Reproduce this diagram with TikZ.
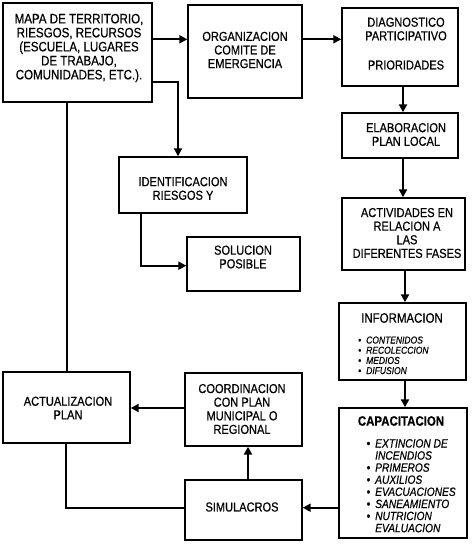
\documentclass[tikz,border=0pt]{standalone}
\usepackage{fontspec}
\setmainfont{Liberation Sans}[FakeStretch=0.85,FakeBold=0.6]
\usetikzlibrary{arrows.meta,calc}
\tikzset{
  box/.style={draw, line width=1.4pt, inner sep=0pt},
  txt/.style={font=\fontsize{13}{13.6}\selectfont, align=center, inner sep=0pt},
  ttl/.style={font=\fontsize{13.5}{14}\selectfont, inner sep=0pt},
  itm/.style={font=\fontsize{10}{10}\selectfont\itshape, inner sep=0pt, anchor=base west},
  itmb/.style={font=\fontsize{12}{12}\selectfont\itshape, inner sep=0pt, anchor=base west},
  arr/.style={line width=2pt, -{Triangle[length=8pt,width=8pt]}},
  ln/.style={line width=2pt}
}
\newcommand{\bul}{\llap{\textbullet\hspace{5pt}}}
\begin{document}
\begin{tikzpicture}[x=1pt,y=-1pt]
\useasboundingbox (0,0) rectangle (471,545);
% boxes
\node[box, minimum width=149pt, minimum height=99pt] (mapa) at (77.5,52.5) {};
\node[box, minimum width=114pt, minimum height=93pt] (org) at (245,51.5) {};
\node[box, minimum width=116pt, minimum height=78pt] (diag) at (400,47) {};
\node[box, minimum width=116pt, minimum height=45pt] (elab) at (400,135.5) {};
\node[box, minimum width=123pt, minimum height=72pt] (act) at (403.5,234) {};
\node[box, minimum width=127pt, minimum height=77pt] (info) at (402.5,341.5) {};
\node[box, minimum width=128pt, minimum height=130pt] (cap) at (403,473) {};
\node[box, minimum width=128pt, minimum height=56pt] (ident) at (183,185) {};
\node[box, minimum width=113pt, minimum height=54pt] (sol) at (243.5,264) {};
\node[box, minimum width=127pt, minimum height=71pt] (actu) at (66.5,407.5) {};
\node[box, minimum width=117pt, minimum height=73pt] (coord) at (243.5,409.5) {};
\node[box, minimum width=117pt, minimum height=60pt] (sim) at (243.5,510) {};
% texts
\node[txt, font=\fontsize{13.6}{14}\selectfont] (mapaT) at (79,48) {MAPA DE TERRITORIO,\\RIESGOS, RECURSOS\\(ESCUELA, LUGARES\\DE TRABAJO,\\COMUNIDADES, ETC.).};
\node[txt] (orgT) at (245,50) {ORGANIZACION\\COMITE DE\\EMERGENCIA};
\node[txt] (diagT) at (406,29) {DIAGNOSTICO\\PARTICIPATIVO};
\node[txt] (prioT) at (406,65) {PRIORIDADES};
\node[txt] (elabT) at (406,134.5) {ELABORACION\\PLAN LOCAL};
\node[txt] (actT) at (407,233) {ACTIVIDADES EN\\RELACION A\\LAS\\DIFERENTES FASES};
\node[ttl] (infoT) at (402,318) {INFORMACION};
\node[itm] (info1) at (366,343.5) {\bul CONTENIDOS};
\node[itm] (info2) at (366,353.7) {\bul RECOLECCION};
\node[itm] (info3) at (366,363.9) {\bul MEDIOS};
\node[itm] (info4) at (366,374.1) {\bul DIFUSION};
\node[ttl, font=\fontsize{13.5}{14}\selectfont\bfseries] (capT) at (401,421) {CAPACITACION};
\node[itmb] (cap1) at (375,447.5) {\bul EXTINCION DE};
\node[itmb] (cap2) at (375,459.6) {INCENDIOS};
\node[itmb] (cap3) at (375,471.7) {\bul PRIMEROS};
\node[itmb] (cap4) at (375,483.8) {\bul AUXILIOS};
\node[itmb] (cap5) at (375,495.9) {\bul EVACUACIONES};
\node[itmb] (cap6) at (375,508) {\bul SANEAMIENTO};
\node[itmb] (cap7) at (375,520.1) {\bul NUTRICION};
\node[itmb] (cap8) at (375,532.2) {EVALUACION};
\node[txt] (identT) at (183,188.5) {IDENTIFICACION\\RIESGOS Y};
\node[txt] (solT) at (243,257) {SOLUCION\\POSIBLE};
\node[txt] (actuT) at (68,408) {ACTUALIZACION\\PLAN};
\node[txt] (coordT) at (242,409) {COORDINACION\\CON PLAN\\MUNICIPAL O\\REGIONAL};
\node[txt] (simT) at (242,507) {SIMULACROS};
% connectors
\draw[arr] ($(mapa.north east)+(0,37)$) -- ($(org.north west)+(0,35)$);
\draw[arr] ($(org.north east)+(0,35)$) -- ($(diag.north west)+(0,32)$);
\draw[arr] ($(diag.south)+(3,0)$) -- ($(elab.north)+(3,0)$);
\draw[arr] ($(elab.south)+(3,0)$) -- ($(act.north)+(-0.5,0)$);
\draw[arr] ($(act.south)+(1.5,0)$) -- ($(info.north)+(2.5,0)$);
\draw[arr] ($(info.south)+(2.5,0)$) -- ($(cap.north)+(2,0)$);
\draw[arr] ($(cap.south west)+(0,-31)$) -- ($(sim.south east)+(0,-33)$);
\draw[arr] ($(sim.north)+(4.5,0)$) -- ($(coord.south)+(4.5,0)$);
\draw[arr] ($(coord.west)+(0,-1.5)$) -- ($(actu.east)+(0,0.5)$);
\draw[arr] ($(mapa.north east)+(0,80)$) -| ($(ident.north)+(-5,0)$);
\draw[arr] ($(ident.south west)+(23,0)$) |- ($(sol.south west)+(0,-26)$);
\draw[ln] ($(actu.south west)+(64,0)$) |- ($(sim.south west)+(0,-33)$);
\draw[ln] ($(mapa.south west)+(65,0)$) -- ($(actu.north west)+(65,0)$);
\end{tikzpicture}
\end{document}
